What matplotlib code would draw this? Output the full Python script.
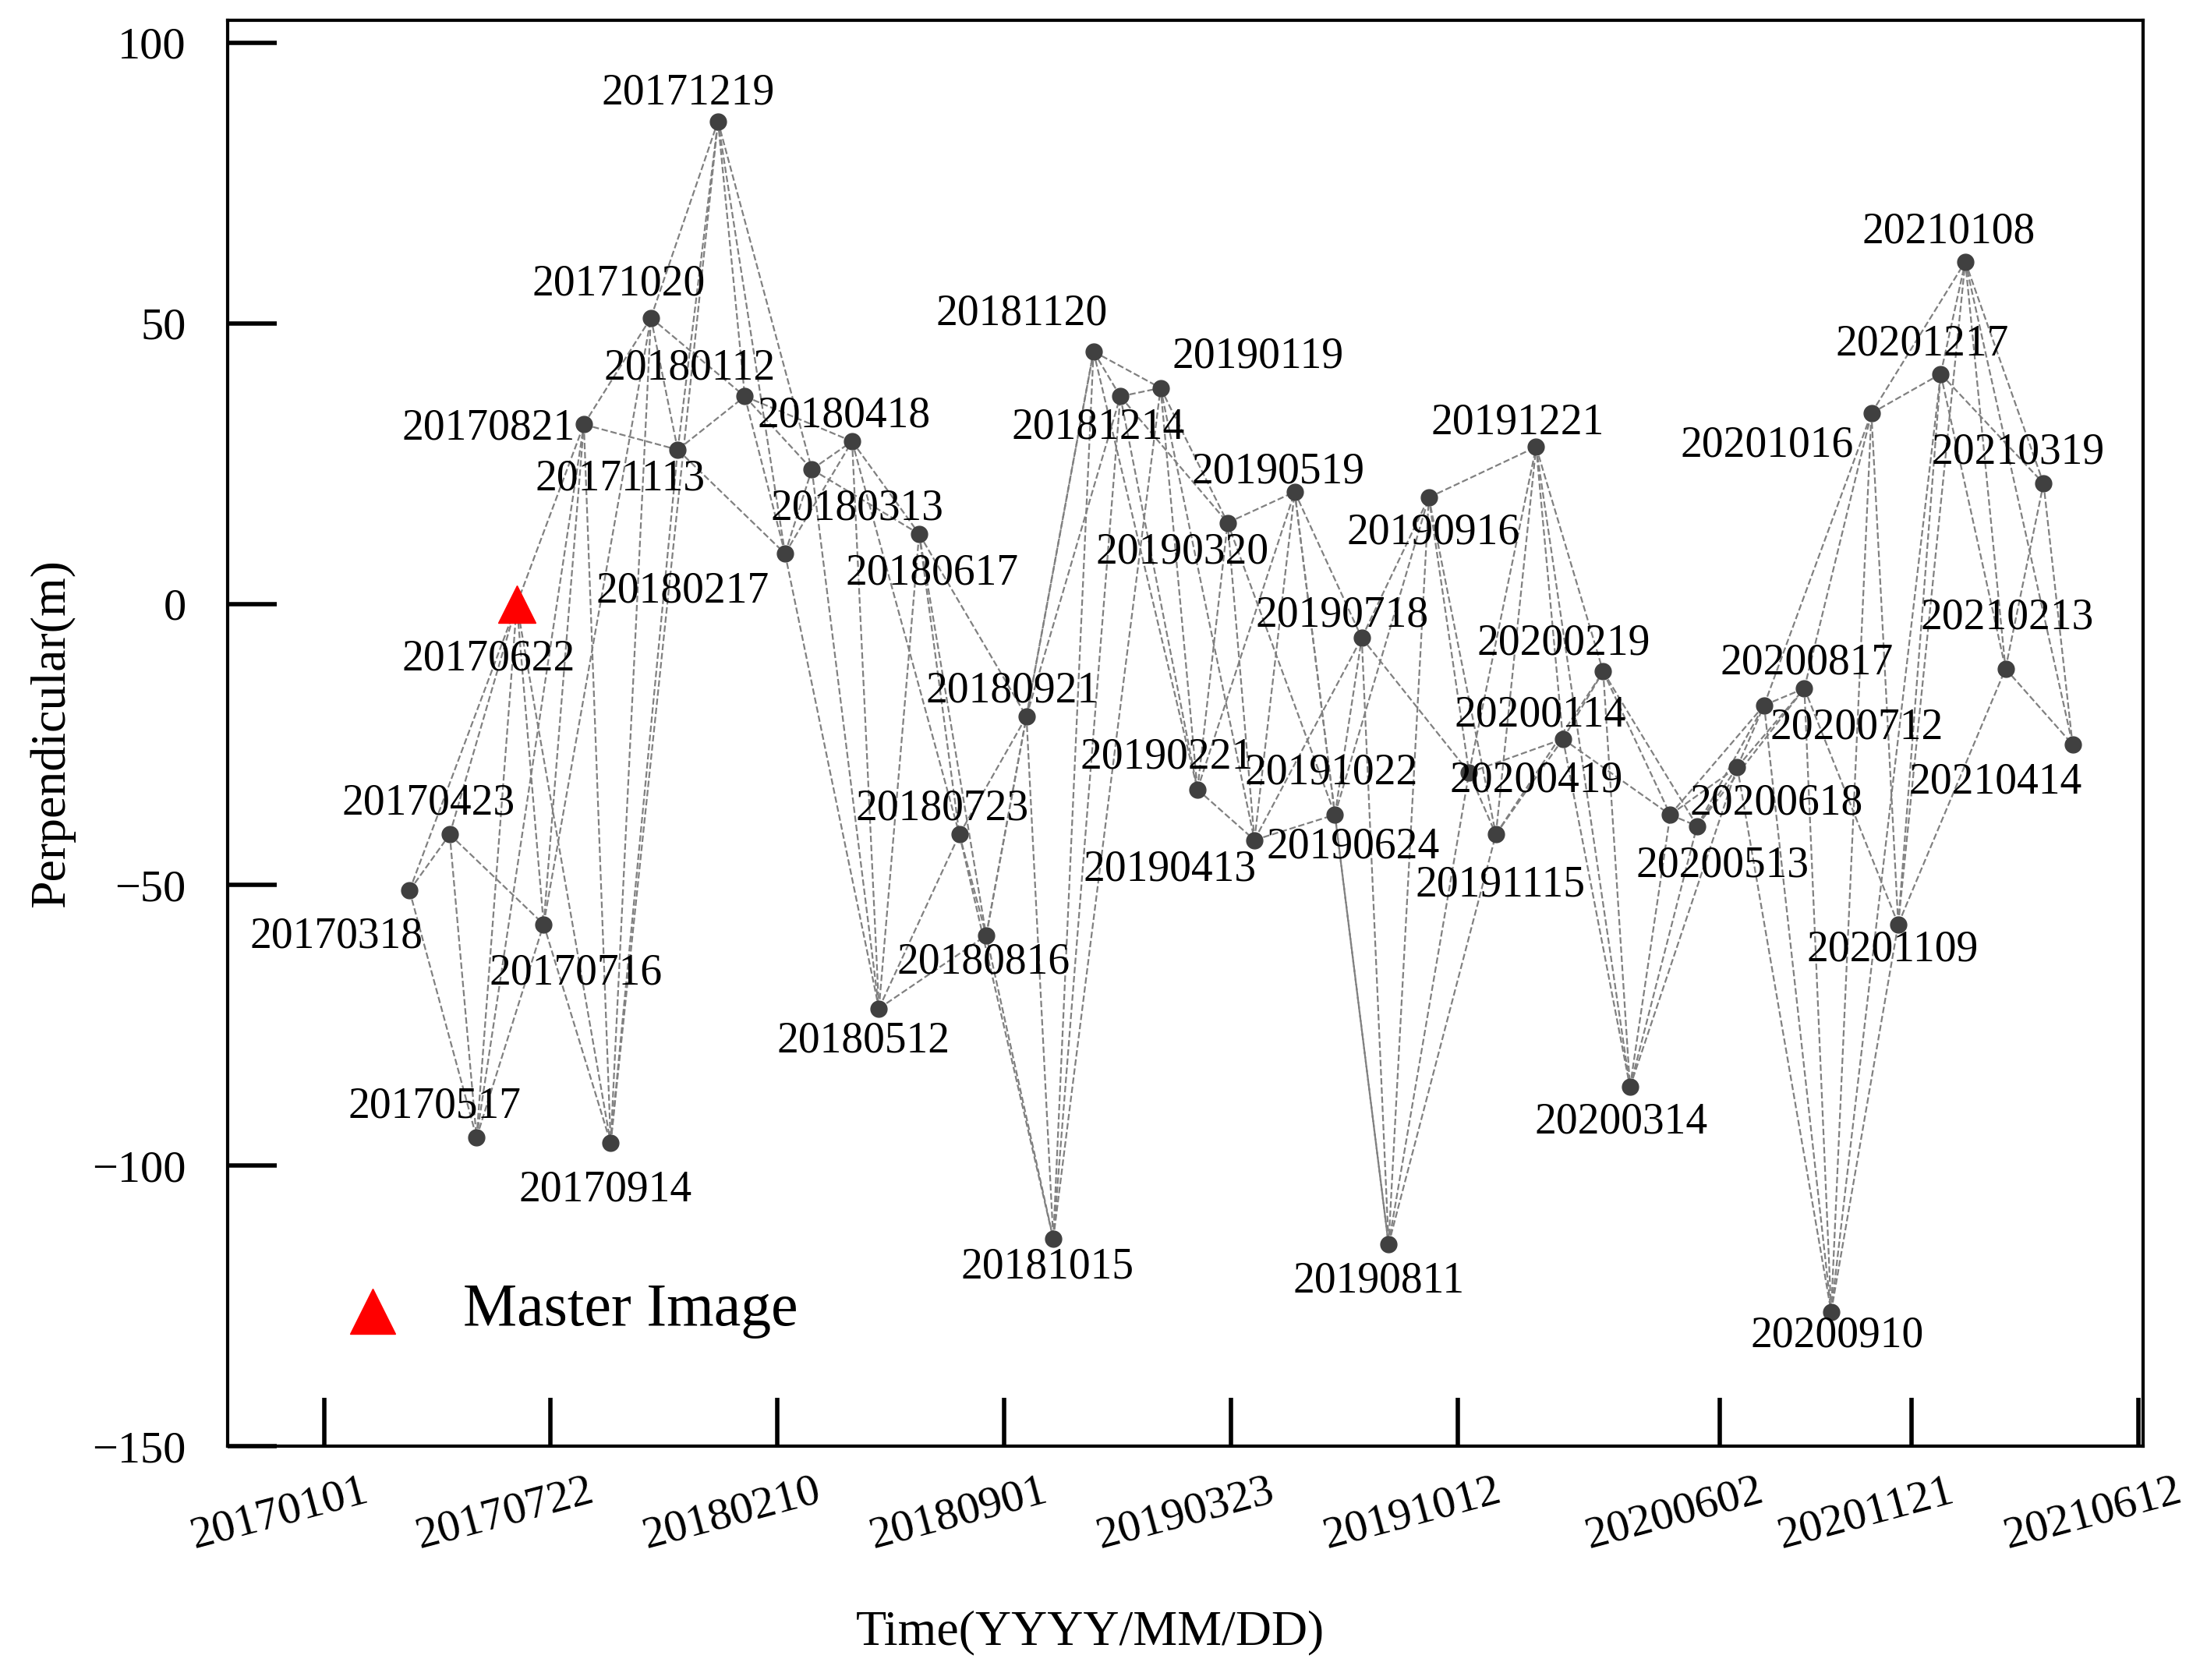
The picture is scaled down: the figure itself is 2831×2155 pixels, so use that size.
import matplotlib
matplotlib.use("Agg")
import matplotlib.pyplot as plt
import matplotlib.dates as mdates
from datetime import datetime

dates = ["20170318","20170423","20170517","20170622","20170716","20170821","20170914",
         "20171020","20171113","20171219","20180112","20180217","20180313","20180418",
         "20180512","20180617","20180723","20180816","20180921","20181015","20181120",
         "20181214","20190119","20190221","20190320","20190413","20190519","20190624",
         "20190718","20190811","20190916","20191022","20191115","20191221","20200114",
         "20200219","20200314","20200419","20200513","20200618","20200712","20200817",
         "20200910","20201016","20201109","20201217","20210108","20210213","20210319",
         "20210414"]
perp = [-51,-41,-95,0,-57,32,-96,
        51,27.5,86,37,9,24,29,
        -72,12.5,-41,-59,-20,-113,45,
        37,38.5,-33,14.5,-42,20,-37.5,
        -6,-114,19,-30,-41,28,-24,
        -12,-86,-37.5,-39.5,-29,-18,-15,
        -126,34,-57,41,61,-11.5,21.5,
        -25]
master = "20170622"
xtick_labels = ["20170101","20170722","20180210","20180901","20190323","20191012",
                "20200602","20201121","20210612"]
ytick_values = [-150,-100,-50,0,50,100]

# label offsets in reference display pixels (dx, dy downward)
offs = [(-52,33),(-15,-22),(-30,-22),(-20,39),(23,35),(-68,3),(-4,33),
        (-23,-24),(-41,21),(-21,-20),(-39,-20),(-73,27),(32,28),(-6,-18),
        (-11,23),(9,28),(-12,-18),(-2,19),(-10,-18),(-4,20),(-51,-27),
        (-16,22),(69,-22),(-22,-23),(-32,21),(-60,21),(-12,-14),(13,23),
        (-14,-16),(-7,26),(3,25),(-98,0),(3,36),(-13,-17),(-16,-17),
        (-28,-20),(-6,25),(-95,-24),(18,28),(28,26),(66,16),(2,-18),
        (4,17),(-74,23),(-4,18),(-13,-21),(-12,-21),(1,-36),(-18,-22),
        (-55,27)]

pt = lambda d: datetime.strptime(d, "%Y%m%d")
xs = [mdates.date2num(pt(d)) for d in dates]

fig = plt.figure(figsize=(28.31, 21.55), dpi=100)
ax = fig.add_axes([0.103, 0.139, 0.868, 0.849])
serif = "Liberation Serif"

n = len(dates)
for i in range(n):
    for k in (1, 2, 3):
        j = i + k
        if j < n:
            ax.plot([xs[i], xs[j]], [perp[i], perp[j]], ls="--", color="#808080",
                    lw=1.6, zorder=1)

for i, d in enumerate(dates):
    if d == master:
        continue
    ax.plot(xs[i], perp[i], "o", color="#404040", ms=15, zorder=3)
mi = dates.index(master)
ax.plot(xs[mi], perp[mi], "^", color="red", ms=34, zorder=4)

s = 1.3
for i, d in enumerate(dates):
    dx, dy = offs[i]
    ax.annotate(d, (xs[i], perp[i]), xytext=(dx * s, -dy * s), textcoords="offset points",
                ha="center", va="center", fontsize=40, family=serif, zorder=5)

ax.set_xlim(mdates.date2num(pt("20161006")), mdates.date2num(pt("20210616")))
ax.set_ylim(-150, 104)
xt = [mdates.date2num(pt(d)) for d in xtick_labels]
ax.set_xticks(xt)
ax.set_xticklabels([])
for x, lab in zip(xt, xtick_labels):
    ax.annotate(lab, (x, 0), xycoords=("data", "axes fraction"), xytext=(-42, -62),
                textcoords="offset points", rotation=15, ha="center", va="center",
                fontsize=42, family=serif, annotation_clip=False)
ax.set_yticks(ytick_values)
ax.set_yticklabels([f"{v}".replace("-", "\u2212") for v in ytick_values], fontsize=42, family=serif)
ax.tick_params(direction="in", length=45, width=4)
ax.tick_params(axis="y", pad=38)
for sp in ax.spines.values():
    sp.set_linewidth(3)
fig.text(0.494, 0.028, "Time(YYYY/MM/DD)", fontsize=46, family=serif, ha="center", va="center")
ax.set_ylabel("Perpendicular(m)", fontsize=46, family=serif, labelpad=16)

ax.plot([0.076], [0.095], "^", color="red", ms=42, transform=ax.transAxes)
ax.text(0.123, 0.095, "Master Image", transform=ax.transAxes, fontsize=56,
        family=serif, va="center")

fig.savefig("out.png", dpi=100)
